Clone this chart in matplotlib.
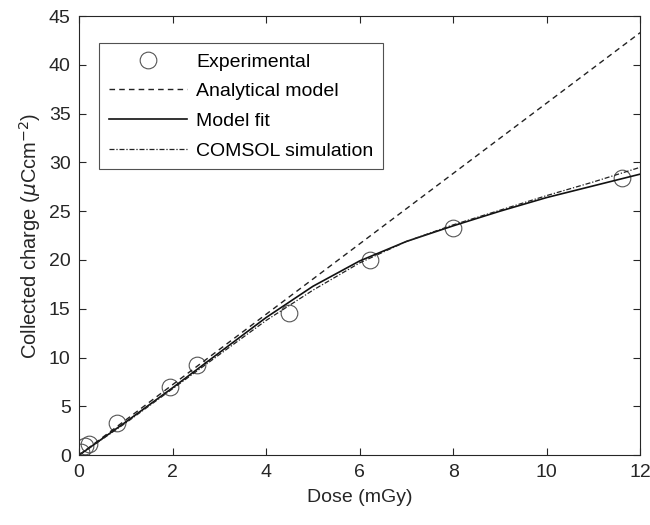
import matplotlib
matplotlib.use("Agg")
import matplotlib.pyplot as plt
import numpy as np

plt.rcParams['font.family'] = ['Liberation Sans', 'DejaVu Sans']
plt.rcParams['mathtext.fontset'] = 'dejavusans'

# Experimental data
exp_dose = [0.05, 0.12, 0.22, 0.82, 1.95, 2.52, 4.5, 6.22, 8.0, 11.62]
exp_charge = [0.3, 0.9, 1.1, 3.3, 7.0, 9.2, 14.6, 20.0, 23.3, 28.4]

# Analytical model (linear)
ana_dose = [0, 12]
ana_charge = [0, 43.3]

# Model fit
fit_dose = [0, 1, 2, 3, 4, 5, 6, 7, 8, 9, 10, 11, 12]
fit_charge = [0, 3.4, 6.9, 10.5, 14.1, 17.3, 19.9, 21.9, 23.5, 25.0, 26.4, 27.6, 28.8]

# COMSOL simulation
com_dose = [0, 1, 2, 3, 4, 5, 6, 7, 8, 9, 10, 11, 12]
com_charge = [0, 3.3, 6.8, 10.3, 13.8, 16.9, 19.7, 21.9, 23.6, 25.1, 26.6, 28.0, 29.5]

fig = plt.figure(figsize=(6.5, 5.25), dpi=100)
ax = fig.add_axes([0.1215, 0.133, 0.8635, 0.8365])

ax.plot(exp_dose, exp_charge, linestyle='none', marker='o', markersize=12,
        markerfacecolor='none', markeredgecolor='#555555', markeredgewidth=0.8,
        label='Experimental')
ax.plot(ana_dose, ana_charge, linestyle=(0, (4, 3)), color='#222222', lw=1.0,
        label='Analytical model')
ax.plot(fit_dose, fit_charge, linestyle='-', color='#111111', lw=1.2,
        label='Model fit')
ax.plot(com_dose, com_charge, linestyle=(0, (4, 1.5, 1, 1.5)), color='#222222', lw=0.9,
        label='COMSOL simulation')

ax.set_xlim(0, 12)
ax.set_ylim(0, 45)
ax.set_xticks(range(0, 13, 2))
ax.set_yticks(range(0, 46, 5))
ax.tick_params(direction='in', length=5, width=0.8, colors='#262626',
               labelsize=14, top=True, right=True, pad=6)
for s in ax.spines.values():
    s.set_color('#262626')
    s.set_linewidth(0.8)

ax.set_xlabel('Dose (mGy)', fontsize=14, color='#262626', labelpad=6)
ax.set_ylabel(r'Collected charge ($\mu$Ccm$^{-2}$)', fontsize=14.5, color='#262626', labelpad=4)

leg = ax.legend(loc='upper left', bbox_to_anchor=(0.036, 0.938), fontsize=14,
                frameon=True, fancybox=False, edgecolor='#262626',
                handlelength=4.0, handletextpad=0.5, borderpad=0.5, labelspacing=0.62,
                borderaxespad=0)
leg.get_frame().set_linewidth(0.8)

fig.savefig('out.png', dpi=100)
